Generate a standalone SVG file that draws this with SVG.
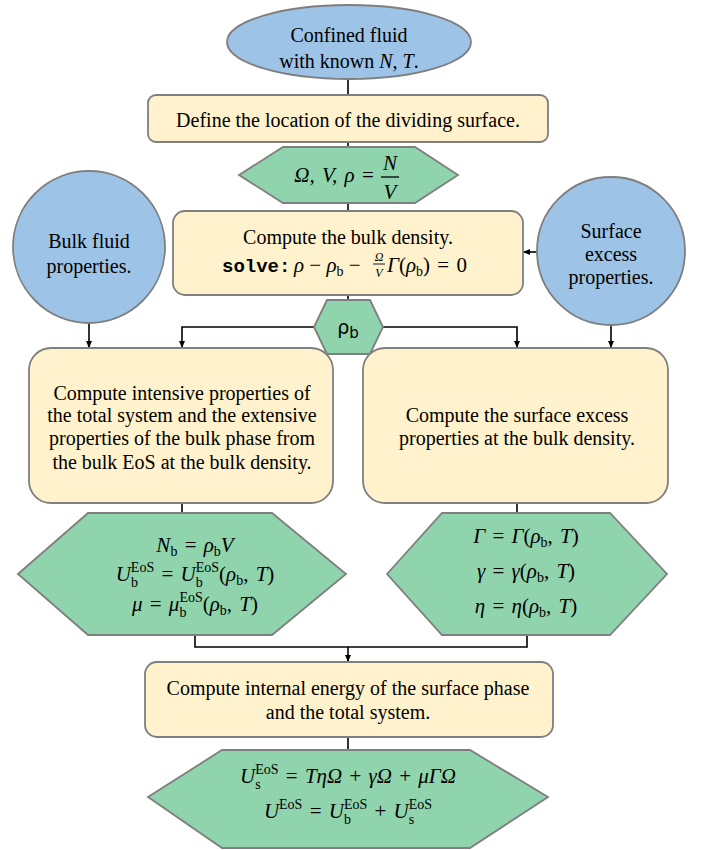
<svg xmlns="http://www.w3.org/2000/svg" width="702" height="850" viewBox="0 0 702 850">
<style>
.blue{fill:#9DC3E6;stroke:#7F7F7F;stroke-width:1.8}
.box{fill:#FFF2CC;stroke:#7F7F7F;stroke-width:1.8}
.hex{fill:#8FD4AD;stroke:#7F7F7F;stroke-width:1.8}
.t{font-family:"Liberation Serif","Times New Roman",serif;font-size:20px;fill:#000;text-anchor:middle}
.m{font-family:"Liberation Serif","Times New Roman",serif;font-size:21px;font-style:italic;fill:#000;text-anchor:middle;word-spacing:2px}
.u{font-style:normal}
.s{font-size:14px;font-style:normal}
.mono{font-family:"Liberation Mono","Courier New",monospace;font-weight:bold;font-size:19px;fill:#000}
.sans{font-family:"DejaVu Sans",sans-serif;font-size:19px;fill:#000;text-anchor:middle}
.c{fill:none;stroke:#000;stroke-width:1.6}
</style>
<defs>
<marker id="ah" markerWidth="7" markerHeight="6" refX="6" refY="3" orient="auto" markerUnits="userSpaceOnUse">
<path d="M0,0 L7,3 L0,6 Z" fill="#000"/>
</marker>
</defs>

<g id="connectors">
<line class="c" x1="348" y1="79" x2="348" y2="95"/>
<line class="c" x1="348" y1="142" x2="348" y2="147"/>
<line class="c" x1="348" y1="203" x2="348" y2="211"/>
<line class="c" x1="537" y1="252" x2="524" y2="252" marker-end="url(#ah)"/>
<line class="c" x1="348" y1="295" x2="348" y2="300"/>
<polyline class="c" points="314,327 182,327 182,347" marker-end="url(#ah)"/>
<polyline class="c" points="383,327 517,327 517,347" marker-end="url(#ah)"/>
<line class="c" x1="89" y1="323" x2="89" y2="347" marker-end="url(#ah)"/>
<line class="c" x1="611" y1="325" x2="611" y2="347" marker-end="url(#ah)"/>
<line class="c" x1="182" y1="503" x2="182" y2="513"/>
<line class="c" x1="517" y1="503" x2="517" y2="513"/>
<polyline class="c" points="195,635 195,647 527,647 527,635"/>
<line class="c" x1="348" y1="647" x2="348" y2="661" marker-end="url(#ah)"/>
<line class="c" x1="348" y1="737" x2="348" y2="750"/>
</g>

<g id="start">
<ellipse class="blue" cx="349" cy="42" rx="122" ry="37"/>
<text class="t" x="349" y="42">Confined fluid</text>
<text class="t" x="349" y="68">with known <tspan style="font-style:italic">N</tspan>, <tspan style="font-style:italic">T</tspan>.</text>
</g>

<g id="define">
<rect class="box" x="148" y="95" width="400" height="47" rx="8"/>
<text class="t" x="348" y="127">Define the location of the dividing surface.</text>
</g>

<g id="volume">
<polygon class="hex" points="239,175 283,147 415,147 458,175 415,203 283,203"/>
<text class="m" x="334" y="182">Ω, V, ρ <tspan class="u">=</tspan></text>
<text class="m" x="390" y="170">N</text>
<line x1="381" y1="177" x2="399" y2="177" stroke="#000" stroke-width="1.3"/>
<text class="m" x="390" y="199">V</text>
</g>

<g id="bulkdensity">
<rect class="box" x="173" y="211" width="350" height="84" rx="12"/>
<text class="t" x="348" y="244">Compute the bulk density.</text>
<text class="mono" x="222" y="272">solve:</text>
<text class="m" x="294" y="272" style="text-anchor:start;word-spacing:0">ρ <tspan class="u">−</tspan> ρ<tspan class="s" dy="4">b</tspan><tspan class="u" dy="-4"> −</tspan></text>
<text class="m" x="379" y="261" style="font-size:12px">Ω</text>
<line x1="373" y1="264" x2="385" y2="264" stroke="#000" stroke-width="0.9"/>
<text class="m" x="379" y="277" style="font-size:12px">V</text>
<text class="m" x="387" y="272" style="text-anchor:start">Γ<tspan class="u">(</tspan>ρ<tspan class="s" dy="4">b</tspan><tspan class="u" dy="-4">) = 0</tspan></text>
</g>

<g id="bulkprops">
<circle class="blue" cx="89" cy="247" r="76"/>
<text class="t" x="89" y="248">Bulk fluid</text>
<text class="t" x="89" y="273">properties.</text>
</g>

<g id="surfprops">
<circle class="blue" cx="611" cy="251" r="74"/>
<text class="t" x="611" y="238">Surface</text>
<text class="t" x="611" y="261">excess</text>
<text class="t" x="611" y="284">properties.</text>
</g>

<g id="rhob">
<polygon class="hex" points="314,327 327,300 370,300 383,327 370,354 327,354"/>
<text class="sans" x="348" y="334">ρ<tspan dy="4" style="font-size:15px">b</tspan></text>
</g>

<g id="intensive">
<rect class="box" x="29" y="348" width="304" height="155" rx="22"/>
<text class="t" x="182" y="400">Compute intensive properties of</text>
<text class="t" x="182" y="422">the total system and the extensive</text>
<text class="t" x="182" y="445">properties of the bulk phase from</text>
<text class="t" x="182" y="469">the bulk EoS at the bulk density.</text>
</g>

<g id="surfexcess">
<rect class="box" x="363" y="348" width="305" height="155" rx="22"/>
<text class="t" x="517" y="422">Compute the surface excess</text>
<text class="t" x="517" y="445">properties at the bulk density.</text>
</g>

<g id="bulkresults">
<polygon class="hex" points="18,574 88,513 272,513 346,574 272,635 88,635"/>
<text class="m" x="195" y="552">N<tspan class="s" dy="4">b</tspan><tspan class="u" dy="-4"> = </tspan>ρ<tspan class="s" dy="4">b</tspan><tspan dy="-4">V</tspan></text>
<text class="m" x="195" y="581">U<tspan class="s" dy="-9">EoS</tspan><tspan class="s" dx="-23.3" dy="15">b</tspan><tspan class="u" dx="16.3" dy="-6"> = </tspan>U<tspan class="s" dy="-9">EoS</tspan><tspan class="s" dx="-23.3" dy="15">b</tspan><tspan class="u" dx="16.3" dy="-6">(</tspan>ρ<tspan class="s" dy="4">b</tspan><tspan class="u" dy="-4">, </tspan>T<tspan class="u">)</tspan></text>
<text class="m" x="195" y="611">μ <tspan class="u">= </tspan>μ<tspan class="s" dy="-9">EoS</tspan><tspan class="s" dx="-23.3" dy="15">b</tspan><tspan class="u" dx="16.3" dy="-6">(</tspan>ρ<tspan class="s" dy="4">b</tspan><tspan class="u" dy="-4">, </tspan>T<tspan class="u">)</tspan></text>
</g>

<g id="surfresults">
<polygon class="hex" points="387,574 442,513 610,513 667,574 610,635 442,635"/>
<text class="m" x="526" y="543">Γ <tspan class="u">= </tspan>Γ<tspan class="u">(</tspan>ρ<tspan class="s" dy="4">b</tspan><tspan class="u" dy="-4">, </tspan>T<tspan class="u">)</tspan></text>
<text class="m" x="526" y="578">γ <tspan class="u">= </tspan>γ<tspan class="u">(</tspan>ρ<tspan class="s" dy="4">b</tspan><tspan class="u" dy="-4">, </tspan>T<tspan class="u">)</tspan></text>
<text class="m" x="526" y="613">η <tspan class="u">= </tspan>η<tspan class="u">(</tspan>ρ<tspan class="s" dy="4">b</tspan><tspan class="u" dy="-4">, </tspan>T<tspan class="u">)</tspan></text>
</g>

<g id="energy">
<rect class="box" x="145" y="662" width="408" height="75" rx="12"/>
<text class="t" x="348" y="695">Compute internal energy of  the surface phase</text>
<text class="t" x="348" y="719">and the total system.</text>
</g>

<g id="energyresults">
<polygon class="hex" points="148,797 222,750 470,750 548,797 470,848 222,848"/>
<text class="m" x="348" y="783">U<tspan class="s" dy="-9">EoS</tspan><tspan class="s" dx="-23.3" dy="15">s</tspan><tspan class="u" dx="17.9" dy="-6"> = </tspan>TηΩ <tspan class="u">+ </tspan>γΩ <tspan class="u">+ </tspan>μΓΩ</text>
<text class="m" x="348" y="818">U<tspan class="s" dy="-9">EoS</tspan><tspan class="u" dy="9"> = </tspan>U<tspan class="s" dy="-9">EoS</tspan><tspan class="s" dx="-23.3" dy="15">b</tspan><tspan class="u" dx="16.3" dy="-6"> + </tspan>U<tspan class="s" dy="-9">EoS</tspan><tspan class="s" dx="-23.3" dy="15">s</tspan><tspan class="s" dx="17.9" dy="-6"></tspan></text>
</g>
</svg>
